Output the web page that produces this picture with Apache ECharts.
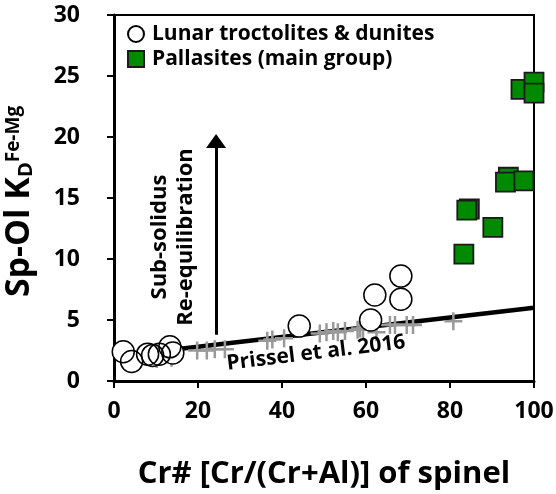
<!DOCTYPE html>
<html><head><meta charset="utf-8">
<script src="https://cdn.jsdelivr.net/npm/echarts@6/dist/echarts.min.js"></script>
<style>html,body{margin:0;padding:0;background:#fff}#c{width:556px;height:494px}</style>
</head><body><div id="c"></div>
<script>
// ---- data ----
const xTicks = [0, 20, 40, 60, 80, 100];
const yTicks = [0, 5, 10, 15, 20, 25, 30];
const seriesNames = ['Lunar troctolites & dunites', 'Pallasites (main group)'];
const lunar = [[2.2,2.4],[4.2,1.6],[8.0,2.2],[9.2,2.1],[10.8,2.2],[13.3,2.8],[14.0,2.3],
  [44.1,4.5],[61.1,5.0],[62.1,7.05],[68.3,8.6],[68.3,6.7]];
const pallasite = [[96.9,23.9],[100,24.5],[100,23.6],[93.9,16.7],[93.2,16.3],[97.6,16.4],
  [84.6,14.1],[84.0,14.0],[90.2,12.6],[83.3,10.4]];
const prisselPts = [[10.2,1.8],[13.7,1.9],[19.8,2.5],[22.1,2.5],[24.0,2.6],[26.4,2.6],
  [36.5,3.3],[37.7,3.4],[40.5,3.5],[49.0,3.9],[50.6,4.0],[52.2,4.1],[53.3,4.0],[55.0,4.1],
  [58.0,4.2],[58.6,4.3],[59.3,4.2],[62.5,4.0],[65.7,4.6],[66.9,4.6],[69.7,4.6],[71.2,4.6],[80.8,4.9]];
const prisselLine = [[0, 2.0], [100, 6.0]];
const arrowShaft = [[24.3, 3.8], [24.3, 19.4]];
const arrowHead = [[24.3, 19.67]];
const prisselLabel = { text: 'Prissel et al. 2016', at: [48.1, 2.3] };
const arrowLabel = { text: 'Sub-solidus\nRe-equilibration', at: [14.0, 11.8] };
const xTitle = 'Cr# [Cr/(Cr+Al)] of spinel';
const yTitle = ['Sp-Ol K', 'D', 'Fe-Mg'];

const FONT = 'Open Sans';
const chart = echarts.init(document.getElementById('c'), null, { renderer: 'canvas' });
const plus = 'path://M-1.4,-10 L1.4,-10 L1.4,-1.4 L10,-1.4 L10,1.4 L1.4,1.4 L1.4,10 L-1.4,10 L-1.4,1.4 L-10,1.4 L-10,-1.4 L-1.4,-1.4 Z';

chart.setOption({
  animation: false,
  backgroundColor: '#fff',
  grid: { left: 114, right: 22, top: 15, bottom: 113, show: true, borderColor: '#000', borderWidth: 2,
          containLabel: false, outerBoundsMode: 'none' },
  legend: {
    data: seriesNames, orient: 'vertical', left: 122, top: 18,
    itemWidth: 16, itemHeight: 16, itemGap: 3,
    textStyle: { fontFamily: FONT, fontWeight: 'bold', fontSize: 21, color: '#000', lineHeight: 22, padding: [0,0,0,3] }
  },
  xAxis: {
    type: 'value', min: xTicks[0], max: xTicks[xTicks.length-1], interval: 20,
    splitLine: { show: false },
    axisLine: { lineStyle: { color: '#000', width: 3 } },
    axisTick: { show: true, inside: false, length: 7, lineStyle: { color: '#000', width: 2 } },
    axisLabel: { margin: 19, fontFamily: FONT, fontWeight: 'bold', fontSize: 23, color: '#000' },
    name: xTitle, nameLocation: 'middle', nameGap: 78,
    nameTextStyle: { fontFamily: FONT, fontWeight: 'bold', fontSize: 31, color: '#000' }
  },
  yAxis: {
    type: 'value', min: yTicks[0], max: yTicks[yTicks.length-1], interval: 5,
    splitLine: { show: false },
    axisLine: { lineStyle: { color: '#000', width: 3 } },
    axisTick: { show: true, inside: false, length: 7, lineStyle: { color: '#000', width: 2 } },
    axisLabel: { margin: 34, fontFamily: FONT, fontWeight: 'bold', fontSize: 23, color: '#000' },
    name: '{a|' + yTitle[0] + '}{b|' + yTitle[1] + '}{c|' + yTitle[2] + '}',
    nameLocation: 'middle', nameGap: 59, nameRotate: 90,
    nameTextStyle: {
      color: '#000',
      rich: {
        a: { fontFamily: FONT, fontWeight: 'bold', fontSize: 34, lineHeight: 46, color: '#000', verticalAlign: 'middle' },
        b: { fontFamily: FONT, fontWeight: 'bold', fontSize: 20, lineHeight: 20, color: '#000', verticalAlign: 'bottom', padding: [0,0,7,0] },
        c: { fontFamily: FONT, fontWeight: 'bold', fontSize: 19, lineHeight: 19, color: '#000', verticalAlign: 'top', padding: [7,7,0,0] }
      }
    }
  },
  series: [
    { type: 'line', data: prisselLine, symbol: 'none', lineStyle: { color: '#000', width: 4.5 }, silent: true, z: 2 },
    { type: 'lines', coordinateSystem: 'cartesian2d', z: 2, silent: true,
      data: [{ coords: arrowShaft }], symbol: ['none', 'none'],
      lineStyle: { color: '#000', width: 3, opacity: 1 } },
    { type: 'scatter', data: arrowHead, symbol: 'triangle', symbolSize: [20, 14], z: 2, silent: true,
      itemStyle: { color: '#000', opacity: 1 } },
    { type: 'scatter', data: prisselPts, symbol: plus, symbolSize: 18, z: 3,
      itemStyle: { color: '#999999', opacity: 1 } },
    // white fills of the lunar circles, outlines drawn on top
    { type: 'scatter', data: lunar, symbol: 'circle', symbolSize: 22, z: 4, silent: true,
      itemStyle: { color: '#fff', opacity: 1 } },
    { name: seriesNames[0], type: 'scatter', data: lunar, symbol: 'circle', symbolSize: 22, z: 4,
      itemStyle: { color: 'rgba(255,255,255,0)', borderColor: '#000', borderWidth: 1.5, opacity: 1 } },
    { name: seriesNames[1], type: 'scatter', data: pallasite, symbol: 'rect', symbolSize: 19, z: 5,
      itemStyle: { color: '#008a00', borderColor: '#1a1a1a', borderWidth: 1.8, opacity: 1 } }
  ]
});

const p1 = chart.convertToPixel({ gridIndex: 0 }, prisselLabel.at);
const p2 = chart.convertToPixel({ gridIndex: 0 }, arrowLabel.at);
const l0 = chart.convertToPixel({ gridIndex: 0 }, prisselLine[0]);
const l1 = chart.convertToPixel({ gridIndex: 0 }, prisselLine[1]);
const ang = Math.atan2(l0[1] - l1[1], l1[0] - l0[0]);
chart.setOption({
  graphic: [
    { type: 'text', x: p1[0], y: p1[1], rotation: ang * 1.05, z: 10,
      style: { text: prisselLabel.text, fontFamily: FONT, fontWeight: 'bold', fontSize: 21, fill: '#000', align: 'center', verticalAlign: 'middle' } },
    { type: 'text', x: p2[0], y: p2[1], rotation: Math.PI / 2, z: 10,
      style: { text: arrowLabel.text, fontFamily: FONT, fontWeight: 'bold', fontSize: 22, lineHeight: 26, fill: '#000', align: 'center', verticalAlign: 'middle' } }
  ]
});
</script></body></html>
